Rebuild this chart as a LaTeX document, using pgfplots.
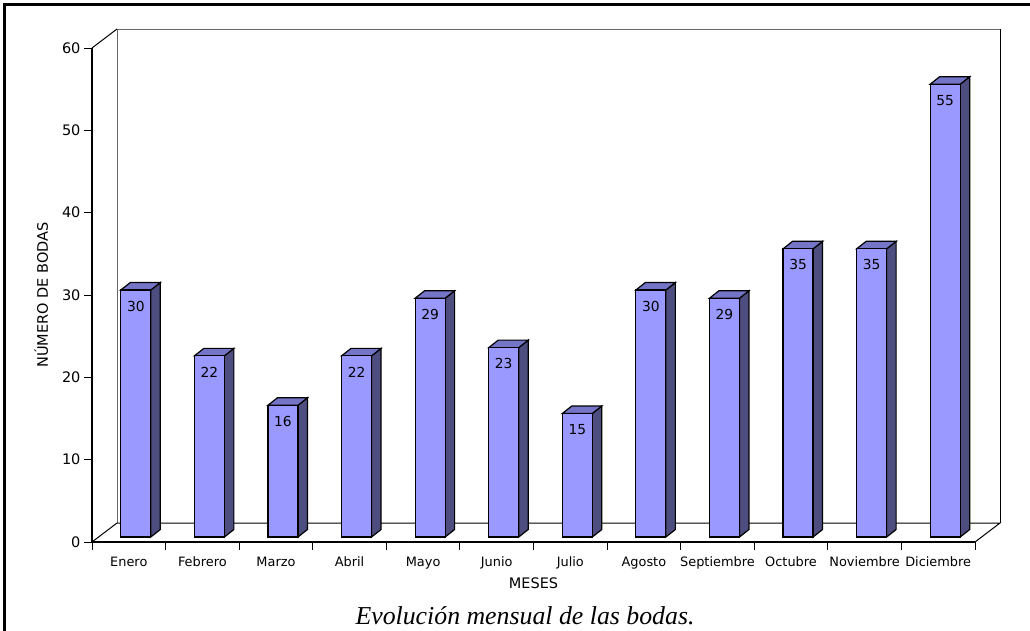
\documentclass[border=0pt]{standalone}
\usepackage{pgfplots}
\pgfplotsset{compat=1.18}
\usepackage{pgfplotstable}
\usepackage{fontspec}
\setmainfont{DejaVu Sans}
\newfontfamily\capfont{Liberation Serif}
\definecolor{barfront}{HTML}{9999FF}
\definecolor{barside}{HTML}{4D4D80}
\definecolor{bartop}{HTML}{7575C8}

\pgfplotstableread{
x y
0 30
1 22
2 16
3 22
4 29
5 23
6 15
7 30
8 29
9 35
10 35
11 55
}\bodas

\pgfdeclareplotmark{bar3d}{%
  \pgfkeys{/pgf/fpu=true,/pgf/fpu/output format=fixed}%
  \pgfmathsetmacro\hh{\rawy*8.233333}%
  \pgfmathsetmacro\ybot{5-\hh}%
  \pgfmathsetmacro\ybs{12.5-\hh}%
  \pgfkeys{/pgf/fpu=false}%
  \pgfsetlinewidth{1.2pt}%
  \pgfsetstrokecolor{black}%
  \pgfsetmiterjoin
  \pgfsetfillcolor{barside}%
  \pgfpathmoveto{\pgfpoint{22pt}{5pt}}%
  \pgfpathlineto{\pgfpoint{31.5pt}{12.5pt}}%
  \pgfpathlineto{\pgfpoint{31.5pt}{\ybs pt}}%
  \pgfpathlineto{\pgfpoint{22pt}{\ybot pt}}%
  \pgfpathclose
  \pgfusepath{fill,stroke}%
  \pgfsetfillcolor{bartop}%
  \pgfpathmoveto{\pgfpoint{-8pt}{5pt}}%
  \pgfpathlineto{\pgfpoint{22pt}{5pt}}%
  \pgfpathlineto{\pgfpoint{31.5pt}{12.5pt}}%
  \pgfpathlineto{\pgfpoint{1.5pt}{12.5pt}}%
  \pgfpathclose
  \pgfusepath{fill,stroke}%
  \pgfsetfillcolor{barfront}%
  \pgfpathrectanglecorners{\pgfpoint{-8pt}{\ybot pt}}{\pgfpoint{22pt}{5pt}}%
  \pgfusepath{fill,stroke}%
}

\begin{document}
\begin{tikzpicture}[x=1pt,y=1pt]
\path[use as bounding box] (0,0) rectangle (1030,-630);
% outer frame (left and top)
\draw[line width=3pt] (4.5,-632) -- (4.5,-4.5) -- (1032,-4.5);
% back wall, floor and side wall
\draw[line width=1pt, black!60] (117,-523) -- (117,-29) -- (1000,-29);
\draw[line width=1pt, black] (1000,-29) -- (1000,-523);
\draw[line width=1pt, black] (92,-542) -- (117,-523) -- (1000,-523) -- (975,-542);
\draw[line width=1pt, black] (92,-48) -- (117,-29);
\begin{axis}[
  at={(92pt,-542pt)}, anchor=south west,
  scale only axis, width=883pt, height=494pt,
  xmin=-0.5, xmax=11.5, ymin=0, ymax=60,
  axis lines*=left,
  axis line style={black, line width=1.1pt},
  clip=false,
  /pgf/number format/assume math mode=true,
  xtick={0,...,11},
  xticklabels={Enero,Febrero,Marzo,Abril,Mayo,Junio,Julio,Agosto,Septiembre,Octubre,Noviembre,Diciembre},
  minor xtick={-0.5,0.5,...,11.5},
  major x tick style={draw=none},
  minor x tick style={black, line width=1pt},
  ytick={0,10,...,60},
  major y tick style={black, line width=1pt},
  tick align=outside,
  major tick length=8pt,
  minor tick length=8pt,
  xticklabel style={font=\fontsize{12.9}{15}\selectfont, text=black, yshift=-3pt, text height=9.5pt, text depth=2.5pt},
  yticklabel style={font=\fontsize{14.5}{17}\selectfont, text=black},
  xlabel={MESES},
  ylabel={NÚMERO DE BODAS},
  xlabel style={at={(axis description cs:0.5,-0.083)}, anchor=center, font=\fontsize{14.5}{17}\selectfont},
  ylabel style={at={(axis description cs:-0.0575,0.5)}, anchor=center, font=\fontsize{14.5}{17}\selectfont},
]
\addplot[scatter, only marks, mark=bar3d, point meta=y,
  scatter/use mapped color={draw=black, fill=black},
  visualization depends on={rawy \as \rawy},
  nodes near coords,
  every node near coord/.append style={anchor=center, xshift=7pt, yshift=-11pt,
     text=black, font=\fontsize{13.8}{16}\selectfont},
] table[x=x, y=y] {\bodas};
\end{axis}
\node[font=\capfont\itshape\fontsize{25.8}{29}\selectfont] at (525,-616) {Evolución mensual de las bodas.};
\end{tikzpicture}
\end{document}
